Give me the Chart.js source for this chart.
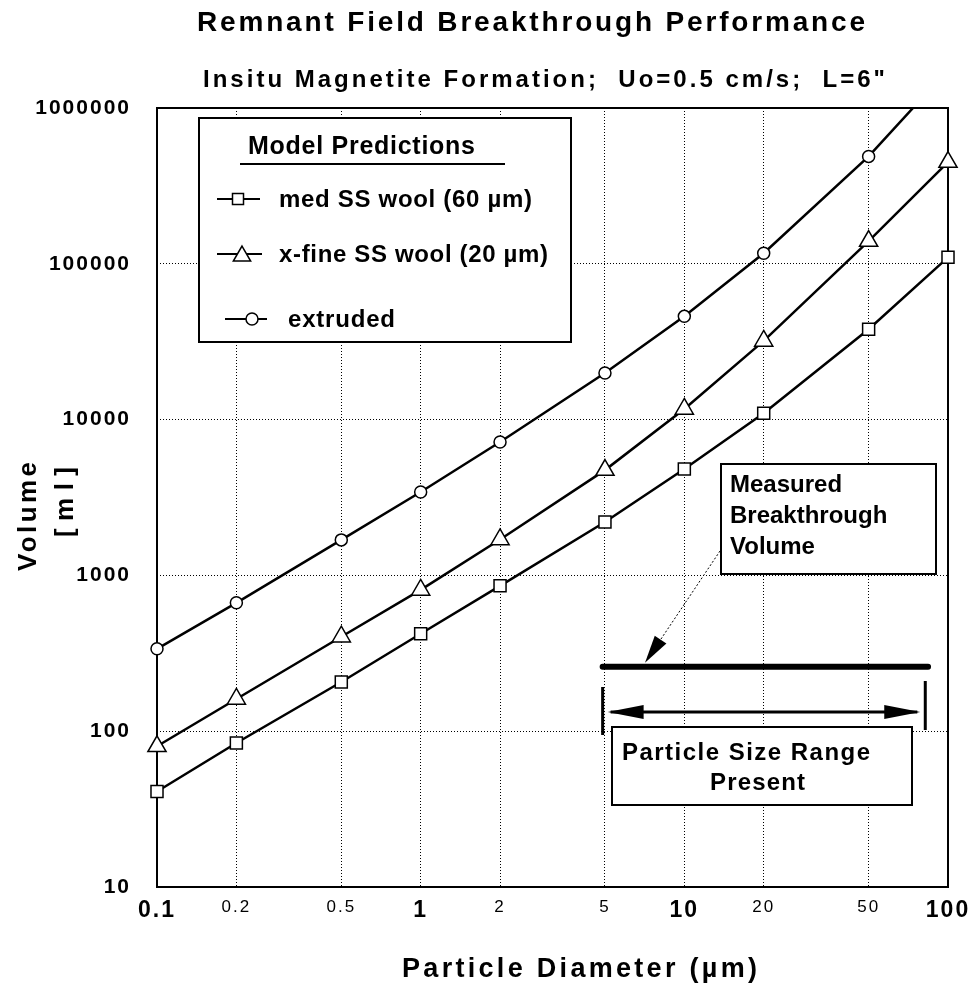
<!DOCTYPE html>
<html>
<head>
<meta charset="utf-8">
<script src="https://cdn.jsdelivr.net/npm/chart.js@4.4.1/dist/chart.umd.min.js"></script>
<style>
  body { margin: 0; background: #fff; }
  canvas { display: block; }
</style>
</head>
<body>
<canvas id="myChart" width="969" height="989"></canvas>
<script>
// particle diameter (um) and model volumes (ml)
const diameters = [0.1, 0.2, 0.5, 1, 2, 5, 10, 20, 50, 100];
const medWool   = [41, 84, 207, 422, 857, 2200, 4820, 11000, 38000, 110000];
const xfineWool = [80, 161, 404, 807, 1700, 4740, 11700, 32000, 140000, 450000];
const extruded  = [338, 667, 1690, 3430, 7180, 19900, 46000, 117000, 489000, 1760000];

const xTickValues = [0.1, 0.2, 0.5, 1, 2, 5, 10, 20, 50, 100];
const xTickLabels = ['0.1', '0.2', '0.5', '1', '2', '5', '10', '20', '50', '100'];
const xMajorLabels = ['0.1', '1', '10', '100'];
const yTickValues = [10, 100, 1000, 10000, 100000, 1000000];
const yTickLabels = ['10', '100', '1000', '10000', '100000', '1000000'];

// measured breakthrough volume bar and particle size range
const measuredRange = [4.9, 84];
const measuredVolume = 259;
const sizeRange = [4.9, 82];
const sizeRangeVolume = 133;

const FONT = "'Liberation Sans', Arial, sans-serif";

function pts(ys) {
  return diameters.map((d, i) => ({ x: d, y: ys[i] }));
}

// bold text stretched to a given width (the original uses wide letter spacing)
function fitText(ctx, text, x, y, width, size) {
  ctx.font = 'bold ' + size + 'px ' + FONT;
  ctx.letterSpacing = '0px';
  const w0 = ctx.measureText(text).width;
  const sp = (width - w0) / Math.max(text.length - 1, 1);
  ctx.letterSpacing = sp + 'px';
  ctx.textAlign = 'left';
  ctx.textBaseline = 'middle';
  ctx.fillText(text, x, y);
  ctx.letterSpacing = '0px';
}

function square(ctx, x, y, s) {
  ctx.fillStyle = '#fff';
  ctx.fillRect(x - s / 2, y - s / 2, s, s);
  ctx.strokeRect(x - s / 2, y - s / 2, s, s);
}
function triangle(ctx, x, y, r) {
  ctx.beginPath();
  for (let k = 0; k < 3; k++) {
    const a = -Math.PI / 2 + k * 2 * Math.PI / 3;
    const px = x + Math.cos(a) * r, py = y + Math.sin(a) * r;
    k ? ctx.lineTo(px, py) : ctx.moveTo(px, py);
  }
  ctx.closePath();
  ctx.fillStyle = '#fff';
  ctx.fill();
  ctx.stroke();
}
function circle(ctx, x, y, r) {
  ctx.beginPath();
  ctx.arc(x, y, r, 0, Math.PI * 2);
  ctx.fillStyle = '#fff';
  ctx.fill();
  ctx.stroke();
}
function arrowHead(ctx, fx, fy, tx, ty, len, half) {
  const a = Math.atan2(ty - fy, tx - fx);
  const bx = tx - Math.cos(a) * len, by = ty - Math.sin(a) * len;
  ctx.beginPath();
  ctx.moveTo(tx, ty);
  ctx.lineTo(bx + Math.sin(a) * half, by - Math.cos(a) * half);
  ctx.lineTo(bx - Math.sin(a) * half, by + Math.cos(a) * half);
  ctx.closePath();
  ctx.fill();
}
function box(ctx, x1, y1, x2, y2) {
  ctx.fillStyle = '#fff';
  ctx.fillRect(x1, y1, x2 - x1, y2 - y1);
  ctx.lineWidth = 2;
  ctx.strokeStyle = '#000';
  ctx.strokeRect(x1, y1, x2 - x1, y2 - y1);
}

const framePlugin = {
  id: 'frame',
  beforeDraw(chart) {
    chart.ctx.letterSpacing = '2px';
  },
  beforeDatasetsDraw(chart) {
    const { ctx, chartArea: a } = chart;
    ctx.save();
    ctx.letterSpacing = '0px';
    ctx.lineWidth = 2;
    ctx.strokeStyle = '#000';
    ctx.strokeRect(a.left, a.top, a.right - a.left, a.bottom - a.top);
    ctx.restore();
  },
  afterDraw(chart) {
    const ctx = chart.ctx;
    const xs = chart.scales.x, ys = chart.scales.y;
    ctx.save();
    ctx.fillStyle = '#000';
    ctx.strokeStyle = '#000';

    // titles
    fitText(ctx, 'Remnant Field Breakthrough Performance', 197, 23, 668, 28);
    fitText(ctx, 'Insitu Magnetite Formation;  Uo=0.5 cm/s;  L=6"', 203, 80, 682, 24);
    fitText(ctx, 'Particle Diameter (\u00b5m)', 402, 970, 355, 27);

    // y title, two rotated lines
    ctx.save();
    ctx.translate(29, 517);
    ctx.rotate(-Math.PI / 2);
    fitText(ctx, 'Volume', -54, 0, 109, 26);
    ctx.restore();
    ctx.save();
    ctx.translate(66, 502);
    ctx.rotate(-Math.PI / 2);
    fitText(ctx, '[ml]', -35, 0, 70, 26);
    ctx.restore();

    // legend box
    box(ctx, 199, 118, 571, 342);
    ctx.fillStyle = '#000';
    fitText(ctx, 'Model Predictions', 248, 147, 227, 25);
    ctx.fillRect(240, 163, 265, 2);
    ctx.lineWidth = 2;
    ctx.beginPath();
    ctx.moveTo(217, 199); ctx.lineTo(260, 199);
    ctx.moveTo(217, 254); ctx.lineTo(262, 254);
    ctx.moveTo(225, 319); ctx.lineTo(267, 319);
    ctx.stroke();
    ctx.lineWidth = 1.5;
    square(ctx, 238, 199, 11);
    triangle(ctx, 242, 256, 10);
    circle(ctx, 252, 319, 6);
    ctx.fillStyle = '#000';
    fitText(ctx, 'med SS wool (60 \u00b5m)', 279, 200, 253, 24);
    fitText(ctx, 'x-fine SS wool (20 \u00b5m)', 279, 255, 269, 24);
    fitText(ctx, 'extruded', 288, 320, 107, 24);

    // measured breakthrough volume bar
    const mx1 = xs.getPixelForValue(measuredRange[0]);
    const mx2 = xs.getPixelForValue(measuredRange[1]);
    const my = ys.getPixelForValue(measuredVolume);
    ctx.lineWidth = 6;
    ctx.lineCap = 'round';
    ctx.beginPath();
    ctx.moveTo(mx1, my); ctx.lineTo(mx2, my);
    ctx.stroke();
    ctx.lineCap = 'butt';

    // particle size range double arrow
    const rx1 = xs.getPixelForValue(sizeRange[0]);
    const rx2 = xs.getPixelForValue(sizeRange[1]);
    const ry = ys.getPixelForValue(sizeRangeVolume);
    ctx.lineWidth = 3;
    ctx.beginPath();
    ctx.moveTo(rx1, ry - 25); ctx.lineTo(rx1, ry + 23);
    ctx.moveTo(rx2, ry - 31); ctx.lineTo(rx2, ry + 18);
    ctx.stroke();
    ctx.beginPath();
    ctx.moveTo(rx1 + 8, ry); ctx.lineTo(rx2 - 8, ry);
    ctx.stroke();
    arrowHead(ctx, rx2, ry, rx1 + 5, ry, 36, 7);
    arrowHead(ctx, rx1, ry, rx2 - 5, ry, 36, 7);

    // callout box with dotted leader
    box(ctx, 721, 464, 936, 574);
    ctx.fillStyle = '#000';
    ctx.font = 'bold 24px ' + FONT;
    ctx.textAlign = 'left';
    ctx.textBaseline = 'middle';
    ctx.fillText('Measured', 730, 485);
    ctx.fillText('Breakthrough', 730, 516);
    ctx.fillText('Volume', 730, 547);
    const tipX = 645, tipY = my - 4;
    ctx.lineWidth = 1;
    ctx.setLineDash([2, 2]);
    ctx.beginPath();
    ctx.moveTo(720, 551); ctx.lineTo(657, 645);
    ctx.stroke();
    ctx.setLineDash([]);
    arrowHead(ctx, 720, 551, tipX, tipY, 28, 7);

    box(ctx, 612, 727, 912, 805);
    ctx.fillStyle = '#000';
    fitText(ctx, 'Particle Size Range', 622, 753, 248, 24);
    fitText(ctx, 'Present', 710, 783, 95, 24);

    ctx.restore();
  }
};

const ctx = document.getElementById('myChart').getContext('2d');
Chart.defaults.color = '#000';
Chart.defaults.font.family = FONT;

const chart = new Chart(ctx, {
  type: 'line',
  data: {
    datasets: [{
      label: 'med SS wool (60 \u00b5m)',
      data: pts(medWool),
      borderColor: '#000',
      borderWidth: 2.5,
      pointStyle: 'rect',
      pointRadius: 8.5,
      pointBackgroundColor: '#fff',
      pointBorderColor: '#000',
      pointBorderWidth: 1.5,
      clip: 12,
    }, {
      label: 'x-fine SS wool (20 \u00b5m)',
      data: pts(xfineWool),
      borderColor: '#000',
      borderWidth: 2.5,
      pointStyle: 'triangle',
      pointRadius: 10.5,
      pointBackgroundColor: '#fff',
      pointBorderColor: '#000',
      pointBorderWidth: 1.5,
      clip: 12,
    }, {
      label: 'extruded',
      data: pts(extruded),
      borderColor: '#000',
      borderWidth: 2.5,
      pointStyle: 'circle',
      pointRadius: 6,
      pointBackgroundColor: '#fff',
      pointBorderColor: '#000',
      pointBorderWidth: 1.5,
      clip: { left: 12, right: 12, top: 0, bottom: 12 },
    }]
  },
  options: {
    responsive: false,
    animation: false,
    devicePixelRatio: 1,
    layout: { padding: { top: 108, right: 21, left: 0, bottom: 0 } },
    plugins: {
      legend: { display: false },
      title: { display: false },
      tooltip: { enabled: false },
    },
    scales: {
      x: {
        type: 'logarithmic',
        min: 0.1,
        max: 100,
        afterBuildTicks: s => { s.ticks = xTickValues.map(v => ({ value: v })); },
        afterFit: s => { s.height = 102; s.paddingLeft = 0; s.paddingRight = 0; },
        ticks: {
          autoSkip: false,
          maxRotation: 0,
          padding: 10,
          color: '#000',
          font: c => xMajorLabels.includes(xTickLabels[c.index])
            ? { size: 23, weight: 'bold', family: FONT }
            : { size: 17, weight: 'normal', family: FONT },
          callback: (v, i) => xTickLabels[i],
        },
        grid: {
          drawTicks: false,
          lineWidth: 1,
          color: c => (c.index === 0 || c.index === xTickValues.length - 1) ? 'rgba(0,0,0,0)' : '#000',
        },
        border: { display: false, dash: [1, 2] },
      },
      y: {
        type: 'logarithmic',
        min: 10,
        max: 1000000,
        afterBuildTicks: s => { s.ticks = yTickValues.map(v => ({ value: v })); },
        afterFit: s => { s.width = 157; s.paddingTop = 0; s.paddingBottom = 0; },
        ticks: {
          autoSkip: false,
          padding: 26,
          color: '#000',
          font: { size: 21, weight: 'bold', family: FONT },
          callback: (v, i) => yTickLabels[i],
        },
        grid: {
          drawTicks: false,
          lineWidth: 1,
          color: c => (c.index === 0 || c.index === yTickValues.length - 1) ? 'rgba(0,0,0,0)' : '#000',
        },
        border: { display: false, dash: [1, 2] },
      }
    }
  },
  plugins: [framePlugin]
});
</script>
</body>
</html>
